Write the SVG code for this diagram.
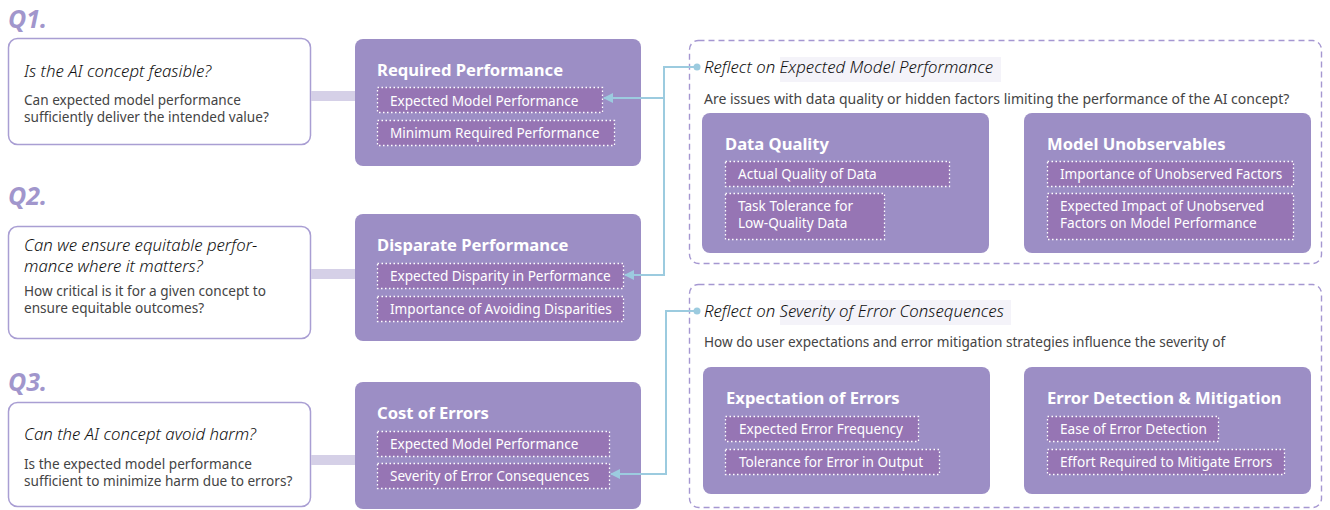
<svg xmlns="http://www.w3.org/2000/svg" width="1330" height="510" viewBox="0 0 1330 510">
<defs>
<style>
text{font-family:"Noto Sans","Open Sans","DejaVu Sans",sans-serif;}
.qlabel{font-size:25px;font-weight:700;font-style:italic;fill:#a196cc;}
.qbox{fill:#ffffff;stroke:#a99ed3;stroke-width:1.5;}
.qtitle{font-size:16.8px;font-weight:300;font-style:italic;fill:#111111;}
.qbody{font-size:13.6px;fill:#444444;}
.bar{fill:#d5d0e7;}
.pbox{fill:#9c8ec5;}
.ptitle{font-size:16.6px;font-weight:700;fill:#ffffff;}
.item{fill:#9675b4;stroke:#ffffff;stroke-width:1.3;stroke-dasharray:1.5 2.5;}
.itext{font-size:13.6px;fill:#ffffff;}
.panel{fill:none;stroke:#a597d1;stroke-width:1.4;stroke-dasharray:6 4;}
.rtitle{font-size:16.8px;font-weight:300;font-style:italic;fill:#111111;}
.rbody{font-size:14px;fill:#444444;}
.hl{fill:#f4f3f9;}
.conn{fill:none;stroke:#9ccbdf;stroke-width:2;}
.dot{fill:#9ccbdf;}
</style>
<marker id="arr" viewBox="0 0 10 10" refX="9" refY="5" markerWidth="10" markerHeight="10" markerUnits="userSpaceOnUse" orient="auto">
<path d="M0,0 L10,5 L0,10 z" fill="#9ccbdf"/>
</marker>
</defs>

<g id="q1">
<text class="qlabel" x="8" y="28">Q1.</text>
<rect class="qbox" x="8.5" y="38.5" width="302" height="106" rx="9"/>
<text class="qtitle" x="24" y="77">Is the AI concept feasible?</text>
<text class="qbody" x="24" y="105">Can expected model performance</text>
<text class="qbody" x="24" y="122">sufficiently deliver the intended value?</text>
</g>
<rect class="bar" x="311" y="91" width="44" height="10"/>

<g id="q2">
<text class="qlabel" x="8" y="205">Q2.</text>
<rect class="qbox" x="8.5" y="226.5" width="302" height="112" rx="9"/>
<text class="qtitle" x="24" y="251">Can we ensure equitable perfor-</text>
<text class="qtitle" x="24" y="272">mance where it matters?</text>
<text class="qbody" x="24" y="296">How critical is it for a given concept to</text>
<text class="qbody" x="24" y="313">ensure equitable outcomes?</text>
</g>
<rect class="bar" x="311" y="269" width="44" height="10"/>

<g id="q3">
<text class="qlabel" x="8" y="391">Q3.</text>
<rect class="qbox" x="8.5" y="402.5" width="302" height="104" rx="9"/>
<text class="qtitle" x="24" y="440">Can the AI concept avoid harm?</text>
<text class="qbody" x="24" y="469">Is the expected model performance</text>
<text class="qbody" x="24" y="486">sufficient to minimize harm due to errors?</text>
</g>
<rect class="bar" x="311" y="455" width="44" height="10"/>

<g id="required-performance">
<rect class="pbox" x="355" y="39" width="286" height="127" rx="8"/>
<text class="ptitle" x="377" y="76">Required Performance</text>
<rect class="item" x="377.5" y="87.5" width="225" height="25"/>
<text class="itext" x="390" y="106">Expected Model Performance</text>
<rect class="item" x="377.5" y="120.5" width="237" height="25"/>
<text class="itext" x="390" y="138">Minimum Required Performance</text>
</g>

<g id="disparate-performance">
<rect class="pbox" x="355" y="214" width="286" height="127" rx="8"/>
<text class="ptitle" x="377" y="251">Disparate Performance</text>
<rect class="item" x="377.5" y="263.5" width="246" height="25"/>
<text class="itext" x="390" y="281">Expected Disparity in Performance</text>
<rect class="item" x="377.5" y="296.5" width="246" height="25"/>
<text class="itext" x="390" y="314">Importance of Avoiding Disparities</text>
</g>

<g id="cost-of-errors">
<rect class="pbox" x="355" y="382" width="286" height="127" rx="8"/>
<text class="ptitle" x="377" y="419">Cost of Errors</text>
<rect class="item" x="377.5" y="431.5" width="232" height="25"/>
<text class="itext" x="390" y="449">Expected Model Performance</text>
<rect class="item" x="377.5" y="463.5" width="232" height="25"/>
<text class="itext" x="390" y="481">Severity of Error Consequences</text>
</g>

<g id="reflect-performance">
<rect class="panel" x="689.5" y="40.5" width="632" height="223" rx="9"/>
<rect class="hl" x="780" y="57" width="221" height="25"/>
<text class="rtitle" x="704" y="73">Reflect on Expected Model Performance</text>
<text class="rbody" x="704" y="104">Are issues with data quality or hidden factors limiting the performance of the AI concept?</text>
<g id="data-quality">
<rect class="pbox" x="702" y="113" width="287" height="140" rx="8"/>
<text class="ptitle" x="725" y="150">Data Quality</text>
<rect class="item" x="725.5" y="161.5" width="224" height="25"/>
<text class="itext" x="738" y="179">Actual Quality of Data</text>
<rect class="item" x="725.5" y="193.5" width="159" height="46"/>
<text class="itext" x="738" y="211">Task Tolerance for</text>
<text class="itext" x="738" y="228">Low-Quality Data</text>
</g>
<g id="model-unobservables">
<rect class="pbox" x="1024" y="113" width="287" height="140" rx="8"/>
<text class="ptitle" x="1047" y="150">Model Unobservables</text>
<rect class="item" x="1047.5" y="161.5" width="246" height="25"/>
<text class="itext" x="1060" y="179">Importance of Unobserved Factors</text>
<rect class="item" x="1047.5" y="193.5" width="246" height="46"/>
<text class="itext" x="1060" y="211">Expected Impact of Unobserved</text>
<text class="itext" x="1060" y="228">Factors on Model Performance</text>
</g>
</g>

<g id="reflect-severity">
<rect class="panel" x="689.5" y="284.5" width="632" height="223" rx="9"/>
<rect class="hl" x="780" y="300" width="231" height="25"/>
<text class="rtitle" x="704" y="317">Reflect on Severity of Error Consequences</text>
<text class="rbody" x="704" y="347" style="font-size:13.6px">How do user expectations and error mitigation strategies influence the severity of</text>
<g id="expectation-of-errors">
<rect class="pbox" x="703" y="367" width="287" height="127" rx="8"/>
<text class="ptitle" x="726" y="404">Expectation of Errors</text>
<rect class="item" x="725.5" y="416.5" width="193" height="25"/>
<text class="itext" x="739" y="434">Expected Error Frequency</text>
<rect class="item" x="725.5" y="449.5" width="214" height="25"/>
<text class="itext" x="739" y="467">Tolerance for Error in Output</text>
</g>
<g id="error-detection">
<rect class="pbox" x="1024" y="367" width="287" height="127" rx="8"/>
<text class="ptitle" x="1047" y="404">Error Detection &amp; Mitigation</text>
<rect class="item" x="1047.5" y="416.5" width="171" height="25"/>
<text class="itext" x="1060" y="434">Ease of Error Detection</text>
<rect class="item" x="1047.5" y="449.5" width="237" height="25"/>
<text class="itext" x="1060" y="467">Effort Required to Mitigate Errors</text>
</g>
</g>

<g id="connectors">
<path class="conn" d="M696,67 H664 V98 H604" marker-end="url(#arr)"/>
<path class="conn" d="M664,98 V275 H625" marker-end="url(#arr)"/>
<circle class="dot" cx="697" cy="67" r="3.5"/>
<path class="conn" d="M696,311 H666 V474 H611" marker-end="url(#arr)"/>
<circle class="dot" cx="697" cy="311" r="3.5"/>
</g>
</svg>
